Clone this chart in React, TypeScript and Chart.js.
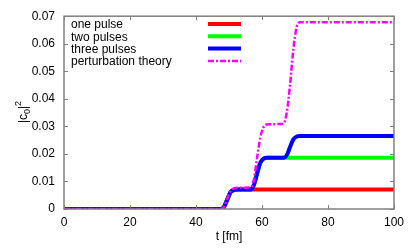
import React, { useEffect, useRef } from "react";
import { Chart, registerables } from "chart.js";

Chart.register(...registerables);

const times = [0, 47.5, 48.5, 49.5, 50.5, 51.5, 52.5, 56.5, 57.5, 58.5, 59.5, 60.5, 61.5, 62.5, 66.5, 67.5, 68.5, 69.5, 70.5, 71.5, 100];
const onePulse = [0, 0, 0.0008, 0.0035, 0.0062, 0.0069, 0.00705, 0.00705, 0.00705, 0.00705, 0.00705, 0.00705, 0.00705, 0.00705, 0.00705, 0.00705, 0.00705, 0.00705, 0.00705, 0.00705, 0.00705];
const twoPulses = [0, 0, 0.0008, 0.0035, 0.0062, 0.0069, 0.00705, 0.00705, 0.0086, 0.0128, 0.0168, 0.0183, 0.0186, 0.0186, 0.0186, 0.0186, 0.0186, 0.0186, 0.0186, 0.0186, 0.0186];
const threePulses = [0, 0, 0.0008, 0.0035, 0.0062, 0.0069, 0.00705, 0.00705, 0.0086, 0.0128, 0.0168, 0.0183, 0.0186, 0.0186, 0.0186, 0.0195, 0.0225, 0.0253, 0.0263, 0.0265, 0.0265];
const perturbation = [0, 0, 0.0009, 0.0038, 0.0066, 0.0075, 0.0077, 0.0078, 0.0105, 0.0185, 0.026, 0.0298, 0.0307, 0.0308, 0.031, 0.035, 0.045, 0.058, 0.066, 0.0678, 0.0678];

const seriesNames = ["one pulse", "two pulses", "three pulses", "perturbation theory"];
const seriesColors = ["#ff0000", "#00ff00", "#0000ff", "#ff00ff"];
const xTicks = [0, 20, 40, 60, 80, 100];
const yTicks = [0, 0.01, 0.02, 0.03, 0.04, 0.05, 0.06, 0.07];

const FONT = "Liberation Sans, Arial, sans-serif";

const frame = {
  id: "frame",
  afterDatasetsDraw(chart: any) {
    const { ctx, chartArea: a, scales } = chart;
    ctx.save();
    ctx.strokeStyle = "#808080";
    ctx.lineWidth = 1;
    ctx.beginPath();
    for (const v of xTicks) {
      const x = Math.round(scales.x.getPixelForValue(v)) + 0.5;
      ctx.moveTo(x, a.bottom);
      ctx.lineTo(x, a.bottom - 4);
      ctx.moveTo(x, a.top);
      ctx.lineTo(x, a.top + 4);
    }
    for (const v of yTicks) {
      const y = Math.round(scales.y.getPixelForValue(v)) + 0.5;
      ctx.moveTo(a.left, y);
      ctx.lineTo(a.left + 4, y);
      ctx.moveTo(a.right, y);
      ctx.lineTo(a.right - 4, y);
    }
    ctx.stroke();
    ctx.lineWidth = 1.5;
    ctx.strokeRect(a.left, a.top, a.right - a.left, a.bottom - a.top);

    // legend
    ctx.font = `12px ${FONT}`;
    ctx.fillStyle = "#000";
    ctx.textBaseline = "middle";
    ctx.textAlign = "left";
    seriesNames.forEach((name, i) => {
      const y = 25 + i * 12.3;
      ctx.fillText(name, 71, y);
      ctx.save();
      ctx.strokeStyle = seriesColors[i];
      if (i === 3) {
        ctx.lineWidth = 2.5;
        ctx.setLineDash([6, 2, 2, 2]);
      } else {
        ctx.lineWidth = 4;
      }
      ctx.beginPath();
      ctx.moveTo(208, y - 1);
      ctx.lineTo(241, y - 1);
      ctx.stroke();
      ctx.restore();
    });

    // axis titles
    ctx.font = `12px ${FONT}`;
    ctx.textAlign = "center";
    ctx.fillText("t [fm]", (a.left + a.right) / 2, 237);

    ctx.save();
    ctx.translate(27, 112);
    ctx.rotate(-Math.PI / 2);
    ctx.textAlign = "left";
    ctx.textBaseline = "alphabetic";
    const big = `12px ${FONT}`;
    const small = `9px ${FONT}`;
    ctx.font = big;
    const w1 = ctx.measureText("|c").width;
    ctx.font = small;
    const w2 = ctx.measureText("0").width;
    ctx.font = big;
    const w3 = ctx.measureText("|").width;
    ctx.font = small;
    const w4 = ctx.measureText("2").width;
    let x = -(w1 + w2 + w3 + w4) / 2;
    ctx.font = big;
    ctx.fillText("|c", x, 0);
    x += w1;
    ctx.font = small;
    ctx.fillText("0", x, 3);
    x += w2;
    ctx.font = big;
    ctx.fillText("|", x, 0);
    x += w3;
    ctx.font = small;
    ctx.fillText("2", x, -6);
    ctx.restore();
    ctx.restore();
  },
};

export default function App() {
  const ref = useRef<HTMLCanvasElement | null>(null);
  useEffect(() => {
    if (!ref.current) return;
    const mk = (vals: number[]) => times.map((t, i) => ({ x: t, y: vals[i] }));
    const chart = new Chart(ref.current, {
      type: "line",
      data: {
        datasets: [
          { label: seriesNames[0], data: mk(onePulse), borderColor: seriesColors[0], borderWidth: 4, order: 3 },
          { label: seriesNames[1], data: mk(twoPulses), borderColor: seriesColors[1], borderWidth: 4, order: 2 },
          { label: seriesNames[2], data: mk(threePulses), borderColor: seriesColors[2], borderWidth: 4, order: 1 },
          { label: seriesNames[3], data: mk(perturbation), borderColor: seriesColors[3], borderWidth: 2.5, borderDash: [6, 2, 2, 2], order: 0 },
        ],
      },
      options: {
        animation: false,
        responsive: false,
        maintainAspectRatio: false,
        devicePixelRatio: 1,
        layout: { padding: { left: 0, top: 13, right: 21, bottom: 0 } },
        elements: {
          point: { radius: 0 },
          line: { cubicInterpolationMode: "monotone", fill: false },
        },
        plugins: { legend: { display: false }, tooltip: { enabled: false } },
        scales: {
          x: {
            type: "linear",
            min: 0,
            max: 100,
            afterFit: (s: any) => { s.height = 40; },
            afterBuildTicks: (s: any) => { s.ticks = xTicks.map((v) => ({ value: v })); },
            grid: { display: false, drawTicks: false },
            border: { display: false },
            ticks: { padding: 6, color: "#000", font: { family: FONT, size: 12 }, maxRotation: 0, autoSkip: false },
          },
          y: {
            type: "linear",
            min: 0,
            max: 0.07,
            afterFit: (s: any) => { s.width = 64; },
            afterBuildTicks: (s: any) => { s.ticks = yTicks.map((v) => ({ value: v })); },
            grid: { display: false, drawTicks: false },
            border: { display: false },
            ticks: {
              padding: 9,
              color: "#000",
              font: { family: FONT, size: 12 },
              autoSkip: false,
              callback: (v: any) => (v === 0 ? "0" : Number(v).toFixed(2)),
            },
          },
        },
      },
      plugins: [frame],
    });
    return () => chart.destroy();
  }, []);
  return (
    <div style={{ position: "fixed", left: 0, top: 0, width: 415, height: 249, background: "#fff" }}>
      <canvas ref={ref} width={415} height={249} style={{ width: 415, height: 249 }} />
    </div>
  );
}
